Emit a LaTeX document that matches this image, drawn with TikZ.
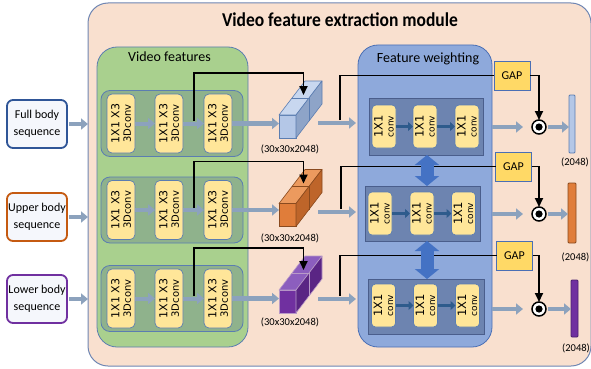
\documentclass[tikz,border=0pt]{standalone}
\usepackage{fontspec}
\setmainfont{Carlito}
\newfontfamily\dvs{DejaVu Sans}
\usetikzlibrary{arrows.meta,calc}
\definecolor{peach}{HTML}{F9E0CF}
\definecolor{modb}{HTML}{6F86B3}
\definecolor{vfgreen}{HTML}{A9D08E}
\definecolor{vfrow}{HTML}{8FB28C}
\definecolor{boxb}{HTML}{5B7DB1}
\definecolor{convy}{HTML}{FFE699}
\definecolor{fwblue}{HTML}{8EA9DB}
\definecolor{fwb}{HTML}{4A6FB5}
\definecolor{fwrow}{HTML}{6D84B0}
\definecolor{fwrowb}{HTML}{4A5E8C}
\definecolor{garrow}{HTML}{8CA2BD}
\definecolor{darrow}{HTML}{2E5B8C}
\definecolor{dblarrow}{HTML}{4472C4}
\definecolor{gapy}{HTML}{FFD966}
\definecolor{inblue}{HTML}{2F5597}
\definecolor{inorange}{HTML}{C55A11}
\definecolor{inpurple}{HTML}{7030A0}
\definecolor{infill}{HTML}{F5F7FC}
\definecolor{cbfront}{HTML}{B4C7E7}
\definecolor{cbtop}{HTML}{C8D7EF}
\definecolor{cbside}{HTML}{8EA4C8}
\definecolor{cbedge}{HTML}{5B7DB1}
\definecolor{cofront}{HTML}{E07D3A}
\definecolor{cotop}{HTML}{EC9A5E}
\definecolor{coside}{HTML}{BE652A}
\definecolor{coedge}{HTML}{8A4A1E}
\definecolor{cpfront}{HTML}{7030A0}
\definecolor{cptop}{HTML}{8C5EBE}
\definecolor{cpside}{HTML}{5A2584}
\definecolor{cpedge}{HTML}{B99AC8}
\definecolor{cpbar}{HTML}{4A2070}
\tikzset{
  every node/.style={inner sep=0pt, outer sep=0pt},
  modbox/.style={draw=modb, fill=peach, line width=1pt, rounded corners=20pt},
  vfbox/.style={draw=boxb, fill=vfgreen, line width=0.8pt, rounded corners=20pt},
  vfrowbox/.style={draw=boxb, fill=vfrow, line width=0.8pt, rounded corners=9pt, minimum width=142pt, minimum height=66pt},
  convbox/.style={draw=boxb, fill=convy, line width=0.7pt, rounded corners=5pt, rotate=90, minimum width=59pt, minimum height=28pt, align=center},
  fwbox/.style={draw=fwb, fill=fwblue, line width=0.8pt, rounded corners=20pt},
  fwrowbox/.style={draw=fwrowb, fill=fwrow, line width=0.8pt},
  fwconv/.style={draw=boxb, fill=convy, line width=0.7pt, rounded corners=4pt, rotate=90, minimum width=43pt, minimum height=24pt, align=center},
  gapbox/.style={draw=fwb, fill=gapy, line width=0.8pt, minimum width=36pt, minimum height=29pt, font=\fontsize{12}{14}\selectfont},
  inbox/.style={fill=infill, line width=1.8pt, rounded corners=6pt, minimum width=60pt, minimum height=48pt, align=center, font=\fontsize{12}{17}\selectfont},
  grayarrow/.style={draw=garrow, line width=4.5pt, -{Triangle[length=7pt,width=11pt]}},
  darkarrow/.style={draw=darrow, line width=3.5pt, -{Triangle[length=5pt,width=9pt]}},
  blk/.style={draw=black, line width=1.8pt},
  blkarrow/.style={blk, -{Triangle[length=9pt,width=8pt]}},
  dblarr/.style={draw=dblarrow, line width=13pt, {Triangle[length=10pt,width=24pt]}-{Triangle[length=10pt,width=24pt]}},
  odot/.style={circle, draw=black, line width=1.5pt, minimum size=14pt, fill=white},
  lbl/.style={font=\fontsize{10.5}{12}\selectfont},
  bar/.style={line width=0.8pt, rounded corners=1pt},
  convfont/.style={font=\dvs\fontsize{11}{11.5}\selectfont},
  fwfont/.style={font=\dvs\fontsize{11.5}{12}\selectfont}
}
\newcommand\convtext{1X1 X3\\\fontsize{10}{11}\selectfont 3Dconv}
\newcommand\fwtext{1X1\\[-1pt]\fontsize{9}{10}\selectfont conv}
\newcommand\drawcube[6]{%
  \node[draw=#6, fill=#3, line width=0.6pt, minimum width=17pt, minimum height=23pt] (#1) at (#2) {};
  \filldraw[draw=#6, fill=#4, line width=0.6pt, line join=round] (#1.north west) -- ++(26,-34) -- ++(17,0) -- (#1.north east) -- cycle;
  \filldraw[draw=#6, fill=#5, line width=0.6pt, line join=round] (#1.north east) -- ++(26,-34) -- ++(0,23) -- (#1.south east) -- cycle;
  \draw[draw=#6, line width=0.6pt] ($(#1.north west)+(13,-17)$) -- ++(17,0) -- ++(0,23);
  \coordinate (#1t) at ($(#1.north)+(16,-20)$);
}
\begin{document}
\begin{tikzpicture}[x=1pt,y=-1pt]
\useasboundingbox (0,0) rectangle (591,369);
\fill[white] (0,0) rectangle (591,369);

% module
\node[modbox, minimum width=503pt, minimum height=363pt] (module) at (339.5,184.5) {};
\node[font=\bfseries\fontsize{17.5}{20}\selectfont] (title) at (340,20) {\scalebox{1}[1.12]{Video feature extraction module}};

% video features
\node[vfbox, minimum width=151pt, minimum height=300pt] (vf) at (172.5,197) {};
\node[font=\fontsize{14}{16}\selectfont] (vftitle) at (169.5,57) {Video features};
\node[vfrowbox] (vr1) at (172,123.5) {};
\node[vfrowbox] (vr2) at (172,210) {};
\node[vfrowbox] (vr3) at (172,298.5) {};

\node[convbox, convfont] (c11) at (121,123.5) {\convtext};
\node[convbox, convfont] (c12) at (169,123.5) {\convtext};
\node[convbox, convfont] (c13) at (218,123.5) {\convtext};
\node[convbox, convfont] (c21) at (121,210) {\convtext};
\node[convbox, convfont] (c22) at (169,210) {\convtext};
\node[convbox, convfont] (c23) at (218,210) {\convtext};
\node[convbox, convfont] (c31) at (121,298.5) {\convtext};
\node[convbox, convfont] (c32) at (169,298.5) {\convtext};
\node[convbox, convfont] (c33) at (218,298.5) {\convtext};
\draw[grayarrow, line width=4pt] (c11.south) -- (c12.north);
\draw[grayarrow, line width=4pt] (c12.south) -- (c13.north);
\draw[grayarrow, line width=4pt] (c21.south) -- (c22.north);
\draw[grayarrow, line width=4pt] (c22.south) -- (c23.north);
\draw[grayarrow, line width=4pt] (c31.south) -- (c32.north);
\draw[grayarrow, line width=4pt] (c32.south) -- (c33.north);

% feature weighting
\node[fwbox, minimum width=134pt, minimum height=302pt] (fw) at (425,196) {};
\node[font=\fontsize{14}{16}\selectfont] (fwtitle) at (428,59) {Feature weighting};
\node[fwrowbox, minimum width=114pt, minimum height=57pt] (fr1) at (426,126.5) {};
\node[fwrowbox, minimum width=115pt, minimum height=55pt] (fr2) at (422.5,213.5) {};
\node[fwrowbox, minimum width=116pt, minimum height=55pt] (fr3) at (426,306.5) {};
\node[fwconv, fwfont] (f11) at (384,126.5) {\fwtext};
\node[fwconv, fwfont] (f12) at (425,126.5) {\fwtext};
\node[fwconv, fwfont] (f13) at (467,126.5) {\fwtext};
\node[fwconv, fwfont] (f21) at (380,213.5) {\fwtext};
\node[fwconv, fwfont] (f22) at (422,213.5) {\fwtext};
\node[fwconv, fwfont] (f23) at (463.5,213.5) {\fwtext};
\node[fwconv, fwfont] (f31) at (383.5,305.5) {\fwtext};
\node[fwconv, fwfont] (f32) at (425.5,305.5) {\fwtext};
\node[fwconv, fwfont] (f33) at (467.5,305.5) {\fwtext};
\draw[darkarrow] (f11.south) -- (f12.north);
\draw[darkarrow] (f12.south) -- (f13.north);
\draw[darkarrow] (f21.south) -- (f22.north);
\draw[darkarrow] (f22.south) -- (f23.north);
\draw[darkarrow] (f31.south) -- (f32.north);
\draw[darkarrow] (f32.south) -- (f33.north);

% input boxes
\node[inbox, draw=inblue] (in1) at (37,124) {Full body\\sequence};
\node[inbox, draw=inorange] (in2) at (37,217) {Upper body\\sequence};
\node[inbox, draw=inpurple] (in3) at (37,299) {Lower body\\sequence};
\coordinate (in1e) at ($(in1.east)+(2,0)$);
\coordinate (in2e) at ($(in2.east)+(2,0)$);
\coordinate (in3e) at ($(in3.east)+(2,0)$);
\draw[grayarrow] (in1e) -- (module.west |- in1e);
\draw[grayarrow] (in2e) -- (module.west |- in2e);
\draw[grayarrow] (in3e) -- (module.west |- in3e);

% cubes
\drawcube{cube1}{287.5,126.5}{cbfront}{cbtop}{cbside}{cbedge}
\drawcube{cube2}{287.5,215}{cofront}{cotop}{coside}{coedge}
\drawcube{cube3}{287.5,301.5}{cpfront}{cptop}{cpside}{cpedge}
\node[lbl] (l1) at (290,149) {(30x30x2048)};
\node[lbl] (l2) at (290,238) {(30x30x2048)};
\node[lbl] (l3) at (290,322) {(30x30x2048)};

\draw[grayarrow] (c13.south) -- (cube1.west |- c13.south);
\draw[grayarrow] (c23.south) -- (cube2.west |- c23.south);
\draw[grayarrow] (c33.south) -- (cube3.west |- c33.south);

% black feeds into cubes
\coordinate (s1) at (194,121);
\coordinate (s2) at (194,208);
\coordinate (s3) at (194,296);
\draw[blkarrow] (s1) |- ($(cube1t)+(0,-22)$) -- (cube1t);
\draw[blkarrow] (s2) |- ($(cube2t)+(0,-22)$) -- (cube2t);
\draw[blkarrow] (s3) |- ($(cube3t)+(0,-22)$) -- (cube3t);

% cube -> feature weighting
\coordinate (o1) at (318,123);
\coordinate (o2) at (318,212);
\coordinate (o3) at (318,299);
\draw[grayarrow] (o1) -- ($(fw.west |- o1)+(-2,0)$);
\draw[grayarrow] (o2) -- ($(fw.west |- o2)+(-2,0)$);
\draw[grayarrow] (o3) -- ($(fw.west |- o3)+(-2,0)$);

% GAP boxes
\node[gapbox] (gap1) at (512,75.5) {GAP};
\node[gapbox] (gap2) at (513.5,166.5) {GAP};
\node[gapbox] (gap3) at (514.5,255.5) {GAP};
\coordinate (b1) at (340,120);
\coordinate (b2) at (341,209);
\coordinate (b3) at (340,296);
\draw[blk] (b1) |- (gap1.west);
\draw[blk] (b2) |- (gap2.west);
\draw[blk] (b3) |- (gap3.west);

% double arrows
\coordinate (dax) at (427,0);
\draw[dblarr] (fr1.south -| dax) -- (fr2.north -| dax);
\draw[dblarr] (fr2.south -| dax) -- (fr3.north -| dax);

% odot
\node[odot] (od1) at (539,127) {};
\node[odot] (od2) at (539,214) {};
\node[odot] (od3) at (539,309) {};
\fill (od1.center) circle (3.6pt);
\fill (od2.center) circle (3.6pt);
\fill (od3.center) circle (3.6pt);
\draw[blkarrow] (gap1.east) -| (od1.north);
\draw[blkarrow] (gap2.east) -| (od2.north);
\draw[blkarrow] (gap3.east) -| (od3.north);

\draw[grayarrow] (fw.east |- od1) -- ($(od1.west)+(-9,0)$);
\draw[grayarrow] (fw.east |- od2) -- ($(od2.west)+(-9,0)$);
\draw[grayarrow] (fw.east |- od3) -- ($(od3.west)+(-9,0)$);

% bars
\node[bar, draw=cbedge, fill=cbfront, minimum width=6pt, minimum height=58pt] (bar1) at (572,124) {};
\node[bar, draw=coedge, fill=cofront, minimum width=8pt, minimum height=60pt] (bar2) at (572,213) {};
\node[bar, draw=cpbar, fill=cpfront, minimum width=7pt, minimum height=57pt] (bar3) at (574.5,308.5) {};
\draw[grayarrow] ($(od1.east)+(2,0)$) -- (bar1.west |- od1);
\draw[grayarrow] ($(od2.east)+(2,0)$) -- (bar2.west |- od2);
\draw[grayarrow] ($(od3.east)+(2,0)$) -- (bar3.west |- od3);
\node[lbl] (bl1) at (575,162) {(2048)};
\node[lbl] (bl2) at (575.5,257) {(2048)};
\node[lbl] (bl3) at (576,348) {(2048)};
\end{tikzpicture}
\end{document}
